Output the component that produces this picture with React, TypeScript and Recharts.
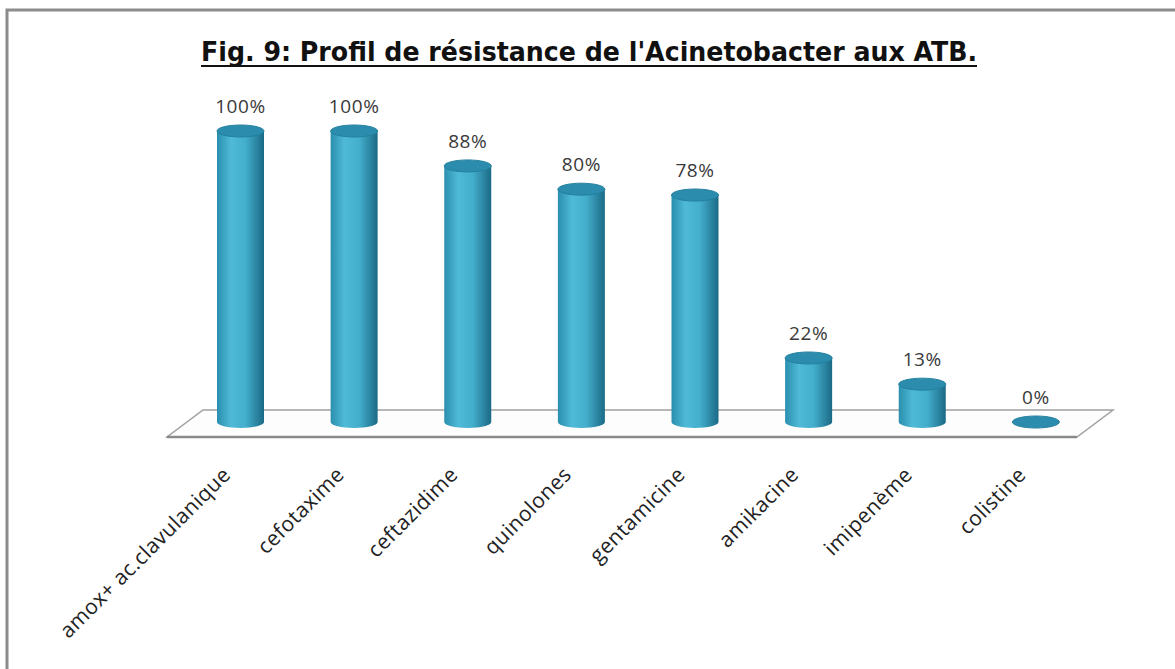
import React from 'react';
import { BarChart, Bar, XAxis, YAxis, LabelList } from 'recharts';

const categories = [
  'amox+ ac.clavulanique',
  'cefotaxime',
  'ceftazidime',
  'quinolones',
  'gentamicine',
  'amikacine',
  'imipenème',
  'colistine',
];
const resistance = [100, 100, 88, 80, 78, 22, 13, 0];

const data = categories.map((name, i) => ({ name, value: resistance[i] }));

const W = 1175;
const H = 669;
const PLOT_LEFT = 184;
const PLOT_RIGHT = 1093;
const PLOT_TOP = 131;
const BASE_Y = 422;
const AXIS_H = 200;

const TITLE = "Fig. 9: Profil de résistance de l'Acinetobacter aux ATB.";

// cylinder drawn on top of the band the bar scale gives us
const Cylinder = (props: any) => {
  const { x, y, width, height, index } = props;
  const rx = width / 2;
  const ry = 6;
  const cx = x + rx;
  const h = Math.max(height, 0);
  const id = `cyl-${index}`;
  return (
    <g>
      <defs>
        <linearGradient id={id} x1="0" y1="0" x2="1" y2="0">
          <stop offset="0%" stopColor="#2a8fae" />
          <stop offset="30%" stopColor="#4fbad7" />
          <stop offset="60%" stopColor="#44afcd" />
          <stop offset="100%" stopColor="#1b6a86" />
        </linearGradient>
      </defs>
      {h > 0 && (
        <path
          d={`M${x},${y} L${x},${y + h} A${rx},${ry} 0 0 0 ${x + width},${y + h} L${x + width},${y} Z`}
          fill={`url(#${id})`}
        />
      )}
      <ellipse cx={cx} cy={y} rx={rx} ry={ry} fill="#2b8cad" stroke="#23809f" strokeWidth={1} />
    </g>
  );
};

const ValueLabel = (props: any) => {
  const { x, y, width, value } = props;
  return (
    <text
      x={x + width / 2}
      y={y - 18}
      textAnchor="middle"
      fontFamily="Open Sans"
      fontSize={19}
      letterSpacing={0.6}
      fill="#3a3a3a"
    >
      {`${value}%`}
    </text>
  );
};

const CategoryTick = (props: any) => {
  const { x, y, payload } = props;
  return (
    <text
      transform={`translate(${x - 9},${y + 54}) rotate(-45)`}
      textAnchor="end"
      fontFamily="Open Sans"
      fontSize={21}
      letterSpacing={0.4}
      fill="#222"
    >
      {payload.value}
    </text>
  );
};

export default function App() {
  const fl = PLOT_LEFT - 17;
  const fr = PLOT_RIGHT - 16;
  const br = PLOT_RIGHT + 20;
  const bl = PLOT_LEFT + 19;
  const fy = BASE_Y + 15;
  const by = BASE_Y - 12;

  return (
    <div style={{ position: 'absolute', left: 0, top: 0, width: W, height: H, background: '#fff', overflow: 'hidden' }}>
      <svg width={W} height={H} style={{ position: 'absolute', left: 0, top: 0 }}>
        {/* frame */}
        <path d={`M7,${H + 5} L7,10 L${W + 5},10`} fill="none" stroke="#8c8c8c" strokeWidth={3} />
        {/* title */}
        <text
          x={589}
          y={61}
          textAnchor="middle"
          fontFamily="DejaVu Sans Condensed, DejaVu Sans"
          fontWeight="bold"
          fontSize={26}
          fill="#111"
          textLength={776}
          lengthAdjust="spacingAndGlyphs"
        >
          {TITLE}
        </text>
        <line x1={201} x2={977} y1={66} y2={66} stroke="#111" strokeWidth={2} />
        {/* floor */}
        <polygon
          points={`${fl},${fy} ${fr},${fy} ${br},${by} ${bl},${by}`}
          fill="#fdfdfd"
          stroke="#a0a0a0"
          strokeWidth={1.5}
        />
        <line x1={fl} x2={fr} y1={fy} y2={fy} stroke="#8a8a8a" strokeWidth={2.5} />
      </svg>
      <div style={{ position: 'absolute', left: 0, top: 0 }}>
        <BarChart
          width={W}
          height={H}
          data={data}
          margin={{ top: PLOT_TOP, right: W - PLOT_RIGHT, bottom: H - BASE_Y - AXIS_H, left: PLOT_LEFT }}
        >
          <XAxis
            dataKey="name"
            height={AXIS_H}
            axisLine={false}
            tickLine={false}
            tickSize={0}
            tickMargin={0}
            interval={0}
            tick={<CategoryTick />}
          />
          <YAxis hide domain={[0, 100]} />
          <Bar dataKey="value" barSize={47} shape={<Cylinder />} isAnimationActive={false}>
            <LabelList dataKey="value" content={<ValueLabel />} />
          </Bar>
        </BarChart>
      </div>
    </div>
  );
}
